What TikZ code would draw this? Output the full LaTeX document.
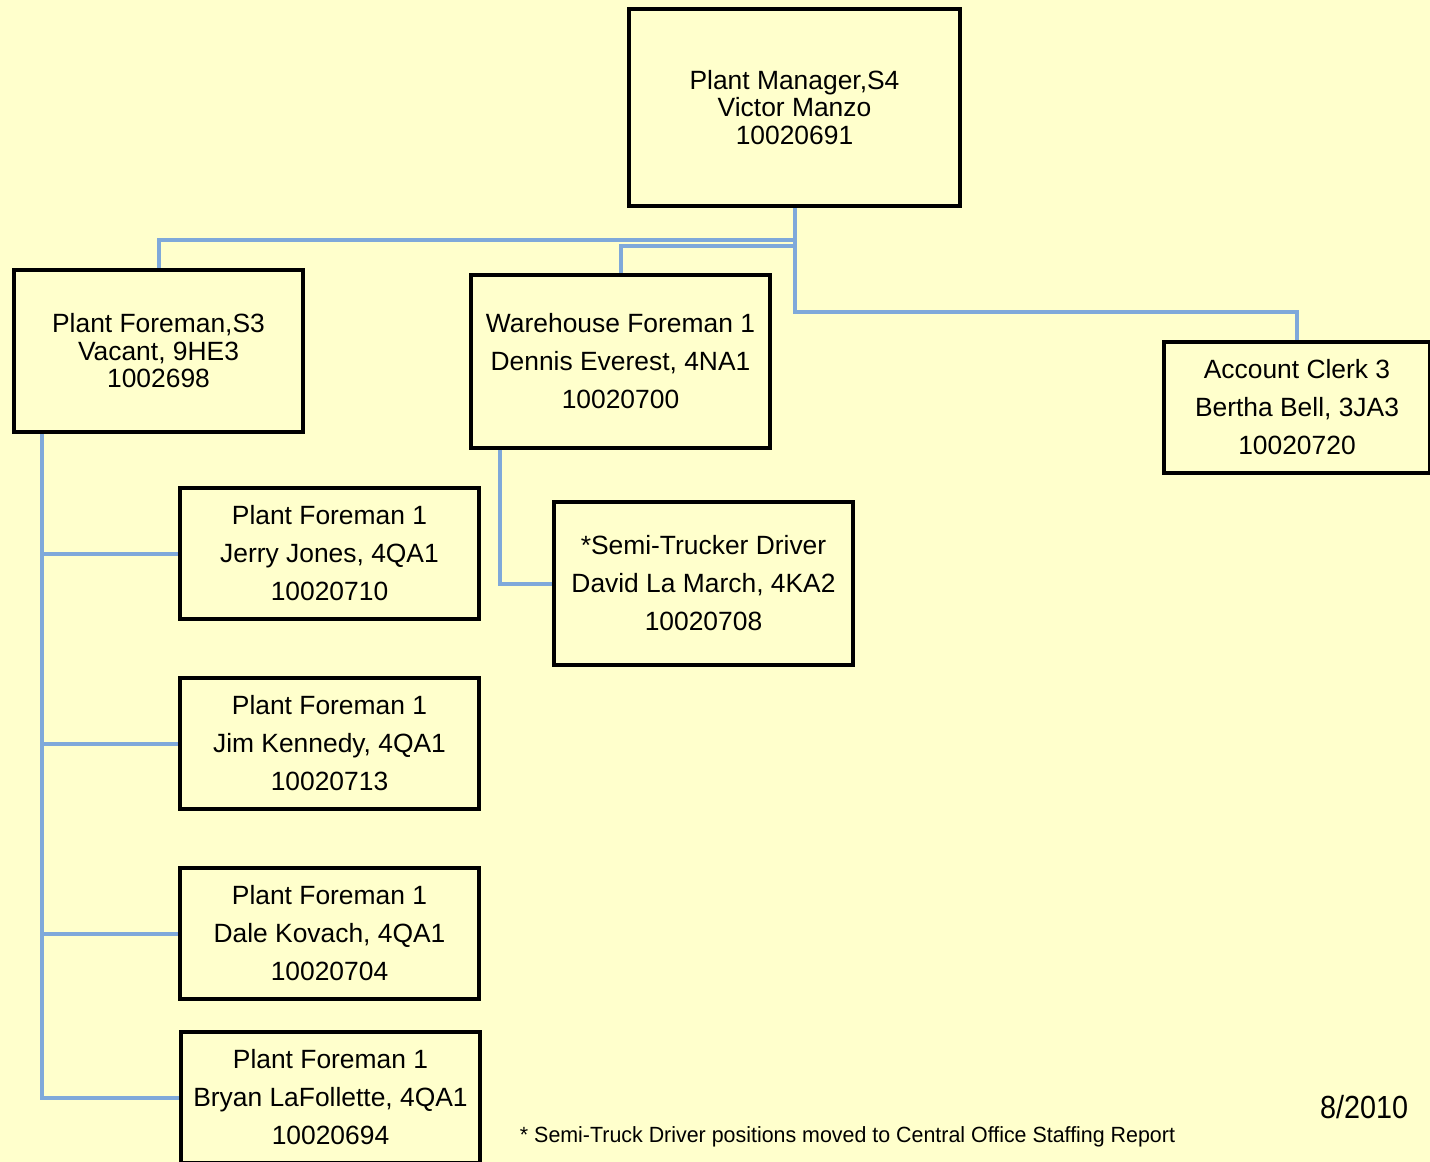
\documentclass[tikz,border=0pt]{standalone}
\usepackage{fontspec}
\setmainfont{Liberation Sans}
\usepackage{graphicx}
\usetikzlibrary{backgrounds}
\definecolor{bgyellow}{HTML}{FFFFCC}
\definecolor{connblue}{HTML}{7FA9DA}
\tikzset{
  orgbox/.style={draw=black, line width=4pt, fill=bgyellow, inner sep=0pt, align=center,
    font=\fontsize{26.4}{38}\selectfont},
  tightbox/.style={orgbox, font=\fontsize{26.4}{27.5}\selectfont},
  conn/.style={draw=connblue, line width=4pt},
}
\begin{document}
\begin{tikzpicture}[x=1pt,y=1pt]
\clip (0,0) rectangle (1430,-1162);
\useasboundingbox (0,0) rectangle (1430,-1162);
% nodes
\node[tightbox, minimum width=331pt, minimum height=197pt] (pm) at (794.5,-107.5) {Plant Manager,S4\\Victor Manzo\\10020691};
\node[tightbox, minimum width=289pt, minimum height=162pt] (pf) at (158.5,-351) {Plant Foreman,S3\\Vacant, 9HE3\\1002698};
\node[orgbox, minimum width=299pt, minimum height=173pt] (wh) at (620.5,-361.5) {Warehouse Foreman 1\\Dennis Everest, 4NA1\\10020700};
\node[orgbox, minimum width=266pt, minimum height=131pt] (ac) at (1297,-407.5) {Account Clerk 3\\Bertha Bell, 3JA3\\10020720};
\node[orgbox, minimum width=299pt, minimum height=163pt] (semi) at (703.5,-583.5) {*Semi-Trucker Driver\\David La March, 4KA2\\10020708};
\node[orgbox, minimum width=299pt, minimum height=131pt] (pfa) at (329.5,-553.5) {Plant Foreman 1\\Jerry Jones, 4QA1\\10020710};
\node[orgbox, minimum width=299pt, minimum height=131pt] (pfb) at (329.5,-743.5) {Plant Foreman 1\\Jim Kennedy, 4QA1\\10020713};
\node[orgbox, minimum width=299pt, minimum height=131pt] (pfc) at (329.5,-933.5) {Plant Foreman 1\\Dale Kovach, 4QA1\\10020704};
\node[orgbox, minimum width=299pt, minimum height=131pt] (pfd) at (330.5,-1097.5) {Plant Foreman 1\\Bryan LaFollette, 4QA1\\10020694};
\node[anchor=base] (note) at (847.5,-1142) {\resizebox{655pt}{\height}{\fontsize{22}{22}\selectfont * Semi-Truck Driver positions moved to Central Office Staffing Report}};
\node[anchor=base] (date) at (1364,-1118) {\resizebox{88pt}{\height}{\fontsize{32}{32}\selectfont 8/2010}};
% connectors and background
\begin{scope}[on background layer]
\fill[bgyellow] (0,0) rectangle (1430,-1162);
\draw[conn] (pm.south) -- ++(0,-104) -| (ac.north);
\draw[conn] (pm.south) ++(0,-32) -| (pf.north);
\draw[conn] (pm.south) ++(0,-38) -| (wh.north);
\draw[conn] (wh.south west) ++(31,0) |- (semi.west);
\draw[conn] (pf.south west) ++(30,0) coordinate (trunk) |- (pfd.west);
\draw[conn] (trunk |- pfa.west) -- (pfa.west);
\draw[conn] (trunk |- pfb.west) -- (pfb.west);
\draw[conn] (trunk |- pfc.west) -- (pfc.west);
\end{scope}
\end{tikzpicture}
\end{document}
